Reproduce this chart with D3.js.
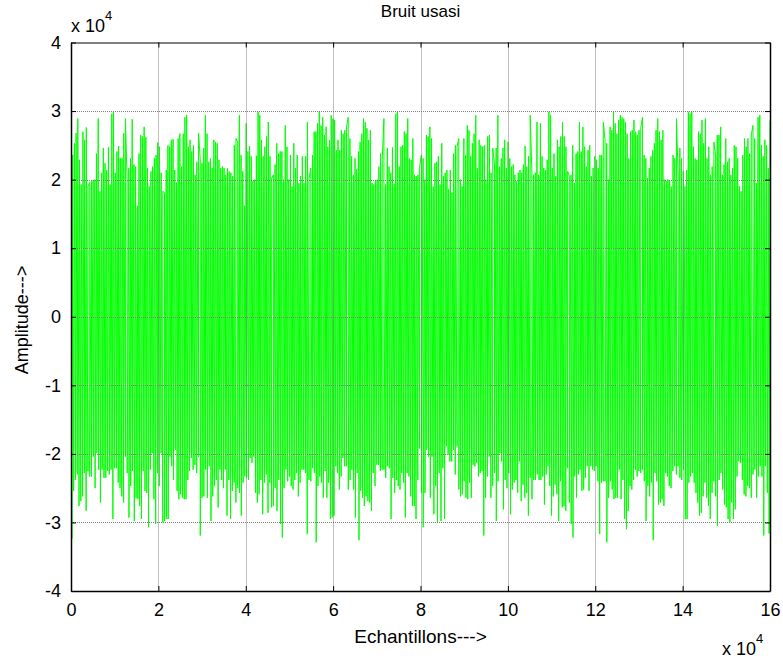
<!DOCTYPE html>
<html>
<head>
<meta charset="utf-8">
<script src="https://cdn.jsdelivr.net/npm/d3@7"></script>
<style>
  html, body { margin: 0; padding: 0; background: #fff; }
  svg { display: block; }
  text { font-family: "Liberation Sans", Arial, sans-serif; fill: #000; }
</style>
</head>
<body>
<svg id="chart" width="783" height="658"></svg>
<script>
// Upper peaks of the noise trace, in thousands, left to right
const topPeaks = [
  24.3,23.6,25.3,26.8,28.9,22.9,19.3,27.0,25.8,27.6,19.0,19.6,19.8,19.9,20.0,23.8,28.9,18.3,21.0,24.6,
  22.4,21.4,24.7,19.3,29.6,30.0,21.0,24.1,24.9,23.1,23.1,26.8,28.9,20.0,21.7,23.1,28.8,22.2,21.9,16.2,
  23.8,26.5,26.3,27.7,26.2,21.7,19.0,21.2,21.9,23.1,23.6,25.4,24.8,21.0,18.3,18.1,21.4,25.0,24.8,25.8,
  25.9,21.4,19.6,26.0,26.7,21.9,26.7,29.1,29.4,24.8,25.8,24.1,25.0,20.7,22.6,26.8,22.9,22.4,24.6,29.4,
  26.7,22.6,23.1,21.7,25.8,25.5,25.3,22.9,21.7,21.9,21.7,20.7,21.7,21.2,21.0,20.5,25.0,26.0,25.5,29.4,
  23.6,21.2,16.2,28.2,24.1,24.9,23.4,19.8,20.0,23.5,29.9,29.4,25.8,23.4,24.8,26.3,28.4,23.4,20.2,20.7,
  22.2,25.3,23.8,24.1,24.1,20.0,27.9,24.8,20.0,23.6,19.0,25.3,21.7,23.6,19.5,20.5,23.4,19.5,23.4,28.4,
  20.2,21.7,23.6,27.0,27.0,28.2,30.0,27.9,29.1,26.5,27.7,24.8,25.8,29.4,28.9,28.7,24.3,25.8,24.3,27.2,
  26.7,27.2,27.7,29.1,26.0,23.4,20.7,23.1,21.5,24.1,25.5,26.7,28.9,28.4,27.5,25.8,27.2,19.5,19.3,19.8,
  20.0,21.9,23.8,22.9,28.9,19.3,24.6,21.9,21.0,24.7,19.4,29.6,30.0,21.9,24.8,25.0,27.0,26.7,28.9,23.1,
  22.9,26.0,20.7,
  20.5,20.7,21.9,23.6,23.1,20.0,26.5,26.3,27.7,26.0,19.0,22.4,22.6,23.4,19.3,25.3,20.5,21.0,21.4,18.6,
  21.4,18.1,23.8,25.0,24.8,26.0,20.0,19.0,26.0,23.6,27.9,27.2,23.4,25.3,26.7,29.4,21.7,25.8,25.0,24.8,
  25.0,20.0,26.3,26.5,21.0,24.6,22.4,24.6,29.4,21.9,23.1,24.6,25.8,21.7,25.5,23.1,21.9,22.2,20.7,19.8,
  21.0,21.4,21.0,22.2,24.9,21.9,23.4,29.4,21.0,20.7,21.0,28.4,20.7,28.2,23.4,21.7,21.4,22.9,29.9,29.4,
  21.7,23.8,20.5,25.8,24.8,26.3,28.4,26.3,24.8,21.2,20.5,20.7,25.0,19.5,23.8,24.1,28.4,24.1,27.7,24.8,
  21.9,24.3,25.0,20.5,21.7,23.4,22.9,21.7,23.6,23.6,28.4,25.8,25.3,20.0,27.7,27.2,29.9,28.2,26.7,28.7,
  29.4,29.1,28.9,28.4,26.7,23.1,27.0,27.2,28.7,27.0,26.5,27.2,27.5,29.1,23.6,23.1,20.2,21.7,23.4,24.3,
  25.3,27.2,28.9,27.0,25.8,27.2,20.0,19.8,20.0,19.8,19.0,23.6,23.1,28.9,20.5,24.6,23.1,21.2,19.0,21.4,
  29.9,29.6,29.9,24.8,23.1,22.9,27.0,26.7,28.7,25.3,28.9,23.1,24.8,20.7,21.9,25.5,23.6,26.5,26.5,27.7,
  20.7,22.2,26.0,22.6,23.1,20.7,21.7,25.0,24.8,23.1,19.0,18.3,23.6,26.0,24.8,26.0,23.8,26.5,27.9,26.0,
  19.5,29.1,29.4,25.0,23.4,25.8,25.0,21.7,28.6
];

// Lower peaks of the noise trace, in thousands, left to right
const bottomPeaks = [
  -32.4,-25.4,-23.8,-23.0,-27.6,-26.9,-26.2,-22.8,-28.3,-22.5,-23.3,-23.3,-20.4,-25.0,-19.9,-22.3,-27.1,-22.3,-23.5,-23.5,
  -22.5,-23.0,-22.3,-29.5,-22.1,-22.1,-24.2,-25.0,-26.2,-27.1,-20.4,-22.8,-29.3,-24.7,-22.5,-29.8,-26.4,-26.6,-27.6,-29.5,
  -22.5,-25.4,-25.7,-30.7,-22.3,-19.9,-26.6,-30.2,-22.8,-24.7,-19.9,-30.0,-29.8,-29.5,-29.5,-20.4,-21.8,-23.8,-19.4,-25.4,
  -26.6,-25.9,-26.4,-26.6,-26.6,-23.8,-22.5,-20.6,-22.3,-21.6,-22.8,-20.4,-31.9,-26.4,-26.2,-22.3,-26.4,-21.8,-29.8,-26.2,
  -24.7,-23.8,-27.8,-22.3,-23.8,-25.0,-22.3,-29.0,-23.8,-29.5,-25.4,-24.2,-27.1,-25.0,-25.7,-29.0,-24.2,-23.3,-23.5,-23.8,
  -20.6,-21.3,-20.4,-25.7,-27.1,-25.9,-23.8,-28.8,-24.2,-23.0,-28.6,-24.2,-27.8,-27.6,-25.0,-28.3,-23.8,-30.2,-32.2,-25.0,
  -22.3,-24.0,-23.3,-24.7,-25.2,-23.8,-22.8,-26.2,-24.2,-22.3,-22.3,-22.8,-31.7,-23.8,-24.0,-22.1,-22.8,-32.9,-24.7,-23.3,
  -24.2,-26.4,-22.5,-26.4,-24.2,-29.5,-29.3,-29.0,-21.8,-22.8,-25.2,-23.3,-20.6,-21.8,-21.8,-25.2,-23.8,-22.3,-25.2,-29.3,
  -22.8,-32.6,-25.4,-26.4,-27.6,-26.2,-26.9,-27.1,-28.3,-22.8,-24.7,-21.6,-21.6,-22.5,-22.3,-22.3,-23.5,-21.8,-22.1,-29.5,
  -23.5,-25.7,-23.8,-24.7,-25.2,-22.8,-24.2,-29.3,-22.8,-23.3,-26.2,-27.6,
  -27.6,-29.5,-23.8,-19.2,-25.7,-30.7,-25.7,-19.4,-20.4,-26.4,-20.4,-28.8,-24.7,-30.0,-22.8,-29.8,-22.1,-29.5,-18.9,-20.1,
  -21.1,-21.1,-19.4,-23.0,-18.9,-25.2,-26.2,-25.9,-24.0,-26.4,-26.6,-24.2,-26.4,-21.6,-21.8,-21.3,-23.3,-22.8,-22.5,-31.9,
  -26.4,-23.3,-20.4,-26.4,-24.7,-22.8,-29.8,-24.0,-19.9,-21.1,-28.1,-23.8,-25.0,-22.8,-28.8,-25.2,-24.2,-23.8,-25.7,-21.1,
  -26.9,-24.5,-26.4,-25.7,-29.0,-23.5,-26.6,-23.8,-23.8,-23.0,-23.8,-23.8,-23.3,-27.4,-23.0,-21.8,-24.7,-29.0,-26.2,-24.5,
  -25.9,-29.8,-24.0,-27.8,-27.6,-28.3,-22.1,-27.1,-30.2,-32.2,-23.3,-26.4,-23.0,-22.3,-25.4,-25.2,-23.5,-21.8,-25.4,-21.8,
  -22.3,-22.5,-21.8,-24.0,-31.7,-24.2,-24.0,-24.0,-32.9,-26.4,-24.0,-25.2,-26.6,-26.4,-26.4,-22.3,-26.6,-23.8,-29.5,-31.0,
  -28.3,-24.7,-25.2,-23.8,-22.3,-23.3,-22.5,-22.8,-22.3,-24.0,-29.8,-24.7,-26.2,-24.2,-32.6,-22.8,-24.0,-27.4,-27.1,-26.6,
  -27.6,-22.8,-23.3,-24.7,-25.0,-22.5,-21.8,-23.0,-21.8,-23.5,-23.8,-22.3,-29.5,-29.5,-24.2,-23.3,-22.8,-24.2,-25.7,-27.1,
  -29.0,-28.6,-26.2,-24.2,-26.4,-27.6,-29.5,-25.7,-24.0,-26.2,-30.5,-23.8,-22.8,-25.2,-27.4,-27.8,-29.5,-30.0,-27.1,-29.5,
  -28.1,-23.3,-21.1,-21.3,-23.8,-25.9,-26.2,-24.7,-25.0,-26.4,-23.0,-22.3,-26.4,-23.3,-21.8,-23.3,-31.9,-21.8,-25.7,-31.6
];

const xTicks = [0, 2, 4, 6, 8, 10, 12, 14, 16];
const yTicks = [-4, -3, -2, -1, 0, 1, 2, 3, 4];
const nSamples = 160000;

const svg = d3.select("#chart");
const margin = { left: 71, right: 13, top: 42.5, bottom: 67 };
const W = 783, H = 658;
const x = d3.scaleLinear().domain([0, nSamples]).range([margin.left, W - margin.right]);
const y = d3.scaleLinear().domain([-40000, 40000]).range([H - margin.bottom, margin.top]);

const plotW = x.range()[1] - x.range()[0];
const plotH = y.range()[0] - y.range()[1];

// Signal: each peak list is spread evenly along the sample axis,
// then both are merged in sample order so the trace swings up and down.
const pts = [];
topPeaks.forEach((v, i) => pts.push([i / (topPeaks.length - 1) * nSamples, v * 1000]));
bottomPeaks.forEach((v, i) => pts.push([(i + 0.5) / bottomPeaks.length * nSamples, v * 1000]));
pts.sort((a, b) => a[0] - b[0]);

svg.append("defs").append("clipPath").attr("id", "clip")
  .append("rect").attr("x", x.range()[0]).attr("y", y.range()[1]).attr("width", plotW).attr("height", plotH);

svg.append("path")
  .datum(pts)
  .attr("clip-path", "url(#clip)")
  .attr("fill", "none")
  .attr("stroke", "#00ff00")
  .attr("stroke-width", 1)
  .attr("d", d3.line().x(d => x(d[0])).y(d => y(d[1])));

// Grid
const grid = svg.append("g").attr("stroke", "#808080").attr("stroke-width", 1).attr("stroke-dasharray", "1,1");
grid.selectAll(".gx").data(xTicks.slice(1, -1)).join("line")
  .attr("x1", d => Math.round(x(d * 1e4)) + 0.5).attr("x2", d => Math.round(x(d * 1e4)) + 0.5)
  .attr("y1", y.range()[1]).attr("y2", y.range()[0]);
grid.selectAll(".gy").data(yTicks.slice(1, -1)).join("line")
  .attr("y1", d => Math.round(y(d * 1e4)) + 0.5).attr("y2", d => Math.round(y(d * 1e4)) + 0.5)
  .attr("x1", x.range()[0]).attr("x2", x.range()[1]);

// Axes with inward ticks on all four sides
const fmt = d => d;
const xs = d3.scaleLinear().domain([0, 16]).range(x.range());
const ys = d3.scaleLinear().domain([-4, 4]).range(y.range());
function styleAxis(g) {
  g.selectAll("path").attr("stroke", "#000");
  g.selectAll("line").attr("stroke", "#000");
  g.selectAll("text").style("font-family", "Liberation Sans, Arial, sans-serif").style("font-size", "18px").attr("fill", "#000");
}
svg.append("g").attr("transform", `translate(0,${y.range()[0]})`)
  .call(d3.axisBottom(xs).tickValues(xTicks).tickFormat(fmt).tickSizeInner(-5).tickSizeOuter(0).tickPadding(12))
  .call(styleAxis).call(g => g.select(".domain").attr("stroke-width", 1.5));
svg.append("g").attr("transform", `translate(0,${y.range()[1]})`)
  .call(d3.axisTop(xs).tickValues(xTicks).tickFormat("").tickSizeInner(-5).tickSizeOuter(0))
  .call(styleAxis);
svg.append("g").attr("transform", `translate(${x.range()[0]},0)`)
  .call(d3.axisLeft(ys).tickValues(yTicks).tickFormat(fmt).tickSizeInner(-5).tickSizeOuter(0).tickPadding(10))
  .call(styleAxis).call(g => g.select(".domain").attr("stroke-width", 1.5));
svg.append("g").attr("transform", `translate(${x.range()[1]},0)`)
  .call(d3.axisRight(ys).tickValues(yTicks).tickFormat("").tickSizeInner(-5).tickSizeOuter(0))
  .call(styleAxis).call(g => g.select(".domain").attr("stroke-width", 1.5));

// Titles and labels
svg.append("text").attr("x", (x.range()[0] + x.range()[1]) / 2).attr("y", 17)
  .attr("text-anchor", "middle").style("font-size", "17px").text("Bruit usasi");
svg.append("text").attr("x", (x.range()[0] + x.range()[1]) / 2).attr("y", 643)
  .attr("text-anchor", "middle").style("font-size", "19px").text("Echantillons--->");
svg.append("text").attr("transform", "translate(28,320) rotate(-90)")
  .attr("text-anchor", "middle").style("font-size", "18px").text("Amplitude--->");

// Exponent markers
const e1 = svg.append("text").attr("x", 71).attr("y", 32).style("font-size", "18px");
e1.append("tspan").text("x 10");
e1.append("tspan").attr("dy", -12).style("font-size", "13px").text("4");
const e2 = svg.append("text").attr("x", 722).attr("y", 655).style("font-size", "18px");
e2.append("tspan").text("x 10");
e2.append("tspan").attr("dy", -12).style("font-size", "13px").text("4");
</script>
</body>
</html>
